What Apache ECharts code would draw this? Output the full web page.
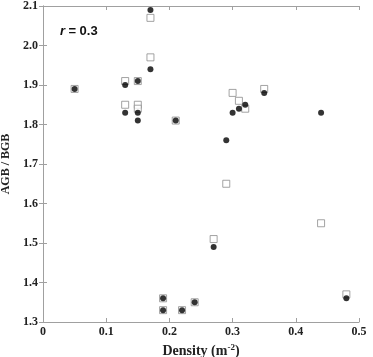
<!DOCTYPE html>
<html><head><meta charset="utf-8">
<script src="https://cdn.jsdelivr.net/npm/echarts@6/dist/echarts.min.js"></script>
<style>html,body{margin:0;padding:0;background:#fff}#c{width:373px;height:357px}</style>
</head><body><div id="c"></div>
<script>
const xTickLabels = ['0', '0.1', '0.2', '0.3', '0.4', '0.5'];
const yTickLabels = ['1.3', '1.4', '1.5', '1.6', '1.7', '1.8', '1.9', '2.0', '2.1'];
const squareDensity = [0.05, 0.13, 0.13, 0.15, 0.15, 0.15, 0.17, 0.17, 0.21, 0.19, 0.19, 0.22, 0.24, 0.27, 0.29, 0.30, 0.31, 0.32, 0.35, 0.44, 0.48];
const squareRatio   = [1.89, 1.91, 1.85, 1.91, 1.85, 1.84, 2.07, 1.97, 1.81, 1.36, 1.33, 1.33, 1.35, 1.51, 1.65, 1.88, 1.86, 1.84, 1.89, 1.55, 1.37];
const circleDensity = [0.05, 0.13, 0.13, 0.15, 0.15, 0.15, 0.17, 0.17, 0.21, 0.19, 0.19, 0.22, 0.24, 0.27, 0.29, 0.30, 0.31, 0.32, 0.35, 0.44, 0.48];
const circleRatio   = [1.89, 1.90, 1.83, 1.91, 1.83, 1.81, 2.09, 1.94, 1.81, 1.36, 1.33, 1.33, 1.35, 1.49, 1.76, 1.83, 1.84, 1.85, 1.88, 1.83, 1.36];

const serif = 'Liberation Serif';
const axisColor = '#a0a0a0';
const labelStyle = { fontFamily: serif, fontWeight: 'bold', fontSize: 12, color: '#222' };

function xFmt(v) { const i = Math.round(v * 10); return xTickLabels[i] || ''; }
function yFmt(v) { const i = Math.round((v - 1.3) * 10); return yTickLabels[i] || ''; }

const chart = echarts.init(document.getElementById('c'));
chart.setOption({
  animation: false,
  backgroundColor: '#fff',
  grid: { left: 43, right: 14, top: 6, bottom: 35, containLabel: false, outerBoundsMode: 'none' },
  xAxis: [{
    type: 'value', min: 0, max: 0.5, interval: 0.1, position: 'bottom',
    axisLine: { show: true, lineStyle: { color: axisColor } },
    axisTick: { show: true, inside: true, length: 4, lineStyle: { color: axisColor } },
    axisLabel: Object.assign({ margin: 4, formatter: xFmt }, labelStyle),
    splitLine: { show: false },
    name: '{a|Density (m}{s|-2}{a|)}', nameLocation: 'middle', nameGap: 20,
    nameTextStyle: { rich: {
      a: { fontFamily: serif, fontWeight: 'bold', fontSize: 14, color: '#222' },
      s: { fontFamily: serif, fontWeight: 'bold', fontSize: 9, color: '#222', verticalAlign: 'top', padding: [0, 0, 8, 0] }
    } }
  }, {
    type: 'value', min: 0, max: 0.5, interval: 0.1, position: 'top',
    axisLine: { show: true, lineStyle: { color: axisColor } },
    axisTick: { show: true, inside: true, length: 4, lineStyle: { color: axisColor } },
    axisLabel: { show: false }, splitLine: { show: false }
  }],
  yAxis: [{
    type: 'value', min: 1.3, max: 2.1, interval: 0.1, position: 'left',
    axisLine: { show: true, lineStyle: { color: axisColor } },
    axisTick: { show: true, inside: true, length: 4, lineStyle: { color: axisColor } },
    axisLabel: Object.assign({ margin: 5, formatter: yFmt }, labelStyle),
    splitLine: { show: false },
    name: 'AGB / BGB', nameLocation: 'middle', nameGap: 22, nameRotate: 90,
    nameTextStyle: { fontFamily: serif, fontWeight: 'bold', fontSize: 12, color: '#222' }
  }, {
    type: 'value', min: 1.3, max: 2.1, interval: 0.1, position: 'right',
    axisLine: { show: true, lineStyle: { color: axisColor } },
    axisTick: { show: true, inside: true, length: 4, lineStyle: { color: axisColor } },
    axisLabel: { show: false }, splitLine: { show: false }
  }],
  graphic: [{
    type: 'text', left: 60, top: 25,
    style: {
      text: '{i|r} {n|= 0.3}',
      rich: {
        i: { fontFamily: 'Liberation Sans', fontStyle: 'italic', fontWeight: 'bold', fontSize: 13, fill: '#111' },
        n: { fontFamily: 'Liberation Sans', fontWeight: 'bold', fontSize: 13, fill: '#111' }
      }
    }
  }],
  series: [{
    type: 'scatter', xAxisIndex: 0, yAxisIndex: 0,
    symbol: 'rect', symbolSize: 7,
    itemStyle: { color: '#fff', borderColor: '#8c8c8c', borderWidth: 1 },
    data: squareDensity.map((d, i) => [d, squareRatio[i]]), z: 2
  }, {
    type: 'scatter', xAxisIndex: 0, yAxisIndex: 0,
    symbol: 'circle', symbolSize: 6,
    itemStyle: { color: '#000' },
    data: circleDensity.map((d, i) => [d, circleRatio[i]]), z: 3
  }]
});
</script></body></html>
